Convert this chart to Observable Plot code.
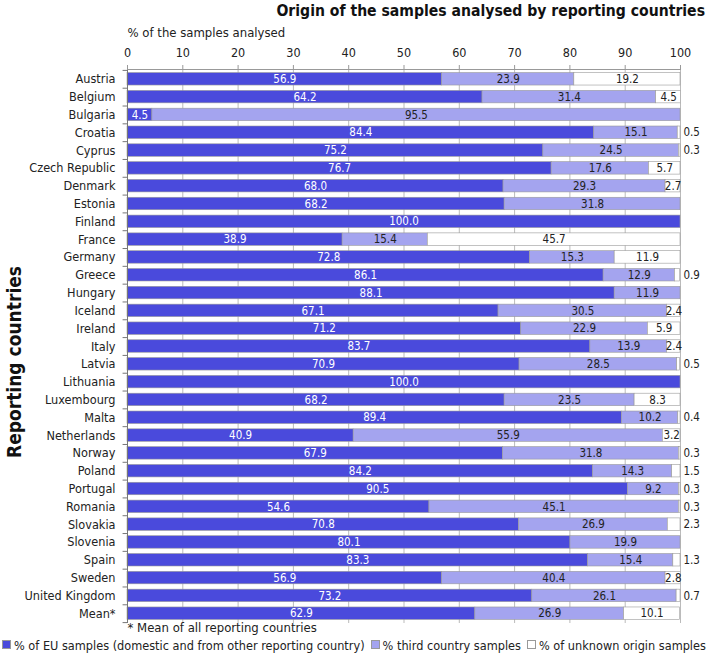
<!DOCTYPE html>
<html><head><meta charset="utf-8">
<script src="https://cdn.jsdelivr.net/npm/d3@7"></script>
<script src="https://cdn.jsdelivr.net/npm/@observablehq/plot@0.6"></script>
<style>
body{margin:0;background:#fff;font-family:"DejaVu Sans Condensed","DejaVu Sans",sans-serif;}
#wrap{width:709px;height:657px;position:relative;overflow:hidden;background:#fff}
#title{height:22px;line-height:22px;text-align:right;padding-right:4px;font-weight:bold;font-size:15.6px;color:#111;white-space:nowrap}
#chart svg{display:block}
#legend{position:absolute;left:0;top:638px;font-size:12.6px;line-height:16px;white-space:nowrap;color:#222}
#ylabel{position:absolute;left:14px;top:362px;transform:translate(-50%,-50%) rotate(-90deg);font-weight:bold;font-size:19px;white-space:nowrap;color:#111}
.sw{display:inline-block;width:7px;height:7px;border:1px solid #999;margin:0 3px 0 2px;vertical-align:1px}
svg g[aria-label="y-axis tick label"]{font-size:12.6px}
svg g[aria-label="x-axis tick label"]{font-size:12.5px}
</style></head><body>
<div id="wrap"><div id="title"></div><div id="chart"></div><div id="ylabel"></div><div id="legend"></div></div>
<script>
const countries = ["Austria","Belgium","Bulgaria","Croatia","Cyprus","Czech Republic","Denmark","Estonia","Finland","France","Germany","Greece","Hungary","Iceland","Ireland","Italy","Latvia","Lithuania","Luxembourg","Malta","Netherlands","Norway","Poland","Portugal","Romania","Slovakia","Slovenia","Spain","Sweden","United Kingdom","Mean*"];
const euValues = [56.9,64.2,4.5,84.4,75.2,76.7,68.0,68.2,100.0,38.9,72.8,86.1,88.1,67.1,71.2,83.7,70.9,100.0,68.2,89.4,40.9,67.9,84.2,90.5,54.6,70.8,80.1,83.3,56.9,73.2,62.9];
const thirdValues = [23.9,31.4,95.5,15.1,24.5,17.6,29.3,31.8,0,15.4,15.3,12.9,11.9,30.5,22.9,13.9,28.5,0,23.5,10.2,55.9,31.8,14.3,9.2,45.1,26.9,19.9,15.4,40.4,26.1,26.9];
const unknownValues = [19.2,4.5,0,0.5,0.3,5.7,2.7,0,0,45.7,11.9,0.9,0,2.4,5.9,2.4,0.5,0,8.3,0.4,3.2,0.3,1.5,0.3,0.3,2.3,0,1.3,2.8,0.7,10.1];
const seriesNames = ["% of EU samples (domestic and from other reporting country)","% third country samples","% of unknown origin samples"];
const seriesColors = ["#4a4adc","#a4a4ef","#ffffff"];
const xTicks = [0,10,20,30,40,50,60,70,80,90,100];
const titleText = "Origin of the samples analysed by reporting countries";
const xLabel = "% of the samples analysed";
const yLabel = "Reporting countries";
const footnote = "* Mean of all reporting countries";

document.getElementById("title").textContent = titleText;
document.getElementById("ylabel").textContent = yLabel;

const seriesValues = [euValues, thirdValues, unknownValues];
const rows = [];
const insideLabels = [];
const outsideLabels = [];
countries.forEach((c, i) => {
  let cum = 0;
  seriesValues.forEach((vals, s) => {
    const v = vals[i];
    if (v > 0) {
      rows.push({country: c, series: seriesNames[s], value: v});
      const lab = {country: c, s, x: cum + v / 2, label: v.toFixed(1)};
      if (s === 2 && v < 2.35) outsideLabels.push({...lab, x: 100});
      else insideLabels.push(lab);
    }
    cum += v;
  });
});

const font = '"DejaVu Sans Condensed","DejaVu Sans",sans-serif';
const W = 709, H = 614, mT = 47, mB = 13;
const pInner = 0.3, pOuter = 0.2;
const step = (H - mT - mB) / (countries.length - pInner + 2 * pOuter);
const chart = Plot.plot({
  width: W, height: H, marginTop: mT, marginBottom: mB, marginLeft: 127, marginRight: 29,
  style: {fontFamily: font, fontSize: "12px", color: "#222", background: "white"},
  x: {domain: [0, 100]},
  y: {domain: countries, paddingInner: pInner, paddingOuter: pOuter, round: false, label: null},
  color: {domain: seriesNames, range: seriesColors},
  marks: [
    Plot.gridX(xTicks, {stroke: "#bbb", strokeOpacity: 1}),
    Plot.barX(rows, {x: "value", y: "country", fill: "series", order: seriesNames, stroke: "#9a9a9a", strokeWidth: 0.6}),
    Plot.ruleX([0], {stroke: "#777"}),
    Plot.ruleY(countries, {y: d => d, x1: -0.8, x2: 0, dy: -step / 2, stroke: "#777"}),
    Plot.ruleY(countries.slice(-1), {y: d => d, x1: -0.8, x2: 0, dy: step / 2, stroke: "#777"}),
    Plot.frame({anchor: "top", stroke: "#999"}),
    Plot.axisX({anchor: "top", ticks: xTicks, tickSize: 5, tickPadding: 8, stroke: "#999", label: null}),
    Plot.axisY({tickSize: 0, tickPadding: 12, label: null}),
    Plot.text(insideLabels.filter(d => d.s === 0), {x: "x", y: "country", text: "label", fill: "white", fontSize: 11.5}),
    Plot.text(insideLabels.filter(d => d.s > 0), {x: "x", y: "country", text: "label", fill: "#222", fontSize: 11.5}),
    Plot.text(outsideLabels, {x: "x", y: "country", text: "label", fill: "#222", fontSize: 11.5, textAnchor: "start", dx: 3}),
    Plot.text([xLabel], {frameAnchor: "top-left", lineAnchor: "middle", dy: -37, textAnchor: "start", fontSize: 13, fill: "#222"}),
    Plot.text([footnote], {frameAnchor: "bottom-left", lineAnchor: "middle", dy: 4, textAnchor: "start", fontSize: 13, fill: "#222"})
  ]
});
document.getElementById("chart").appendChild(chart);

const legend = document.getElementById("legend");
seriesNames.forEach((n, i) => {
  const sp = document.createElement("span");
  sp.innerHTML = `<span class="sw" style="background:${seriesColors[i]}"></span>${n}`;
  sp.style.marginRight = "4px";
  legend.appendChild(sp);
});
</script>
</body></html>
